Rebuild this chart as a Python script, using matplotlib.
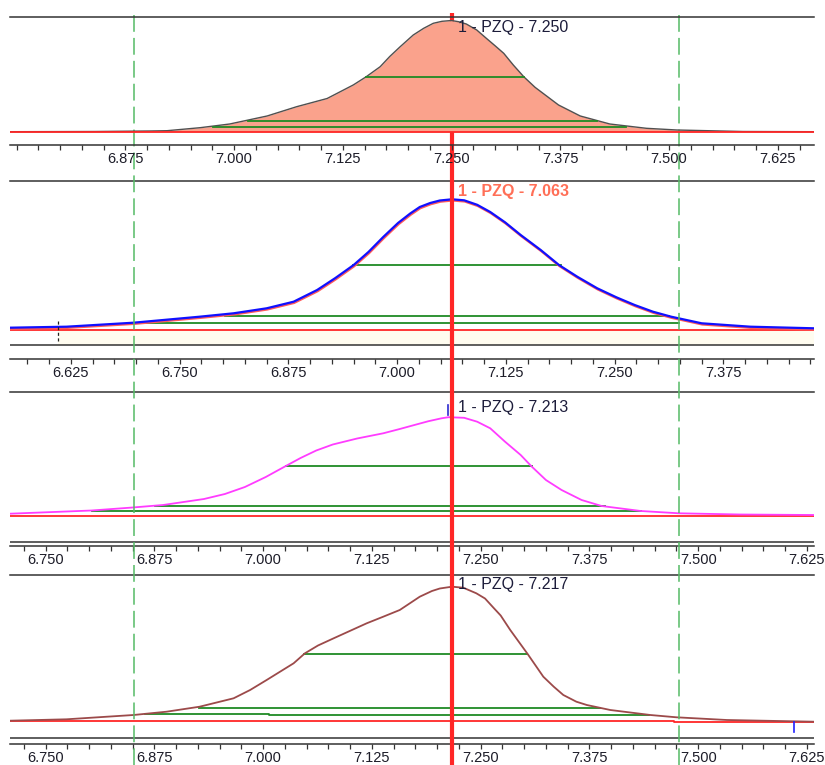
import matplotlib.pyplot as plt
import matplotlib.transforms as mtransforms
from matplotlib.ticker import FixedLocator, MultipleLocator, FormatStrFormatter

plt.rcParams["font.family"] = ["Liberation Sans", "DejaVu Sans"]

W, H, DPI = 825, 765, 100
LEFT, RIGHT = 10, 814
PX_PER_MIN = 870.0

# ---- traces: retention time (min) vs signal above baseline ----
t1 = [6.7425, 6.840, 6.903, 6.923, 6.961, 6.995, 7.038, 7.072, 7.107, 7.137,
      7.152, 7.168, 7.179, 7.191, 7.206, 7.218, 7.229, 7.239, 7.250, 7.258,
      7.267, 7.279, 7.290, 7.300, 7.310, 7.321, 7.333, 7.346, 7.373, 7.398,
      7.432, 7.474, 7.509, 7.585, 7.667]
s1 = [0.0, 0.2, 0.7, 1.0, 4.0, 7.7, 15.7, 25.0, 33.2, 46.7,
      55.0, 65.0, 75.2, 85.0, 96.7, 103.4, 108.4, 110.4, 111.2, 110.0,
      107.7, 101.7, 93.4, 86.0, 78.4, 66.7, 55.0, 44.4, 26.7, 15.7,
      7.7, 3.4, 1.7, 0.2, 0.0]

t2 = [6.555, 6.620, 6.697, 6.773, 6.812, 6.850, 6.881, 6.908, 6.929, 6.950,
      6.967, 6.984, 7.001, 7.015, 7.026, 7.038, 7.049, 7.063, 7.077, 7.092,
      7.107, 7.124, 7.142, 7.165, 7.186, 7.207, 7.230, 7.252, 7.273, 7.294,
      7.315, 7.350, 7.406, 7.479]
s2 = [2.3, 3.3, 7.3, 13.3, 16.7, 21.7, 28.3, 40.0, 52.0, 65.0,
      78.0, 93.0, 107.0, 116.5, 123.0, 127.0, 129.5, 130.7, 129.7, 125.2,
      118.0, 107.7, 95.0, 80.0, 65.0, 53.3, 41.7, 32.7, 25.0, 18.3,
      13.3, 6.7, 3.3, 1.7]

t3 = [6.709, 6.803, 6.850, 6.885, 6.932, 6.956, 6.979, 7.003, 7.026, 7.043,
      7.061, 7.080, 7.108, 7.138, 7.157, 7.173, 7.190, 7.205, 7.213, 7.231,
      7.246, 7.261, 7.278, 7.296, 7.308, 7.325, 7.343, 7.366, 7.389, 7.434,
      7.478, 7.548, 7.633]
s3 = [2.0, 5.2, 8.2, 10.7, 16.7, 21.7, 28.7, 38.7, 49.7, 57.7,
      65.2, 71.2, 77.2, 82.4, 86.7, 90.5, 94.5, 97.4, 98.5, 97.9,
      94.0, 87.4, 74.0, 60.7, 49.7, 35.7, 25.7, 15.7, 9.7, 4.7,
      2.4, 1.2, 0.7]

t4 = [6.709, 6.774, 6.851, 6.889, 6.927, 6.966, 6.985, 7.004, 7.035, 7.048,
      7.063, 7.081, 7.119, 7.138, 7.157, 7.180, 7.194, 7.203, 7.217, 7.230,
      7.245, 7.255, 7.265, 7.273, 7.284, 7.304, 7.322, 7.334, 7.345, 7.360,
      7.372, 7.399, 7.445, 7.475, 7.533, 7.633]
s4 = [0.0, 1.4, 5.7, 9.0, 14.0, 22.4, 30.7, 40.7, 57.4, 67.4,
      75.2, 82.4, 97.4, 104.0, 110.7, 124.0, 129.7, 132.2, 134.0, 133.0,
      127.4, 122.2, 112.7, 105.2, 90.7, 66.7, 44.0, 34.0, 25.7, 19.0,
      15.7, 10.7, 5.7, 3.4, 0.7, -1.0]

apex = [7.250, 7.063, 7.213, 7.217]
peak_name = "1 - PZQ"

# integration lines: (start, end, level)
integ1 = [(7.152, 7.333, 55.0), (7.016, 7.417, 10.7), (6.976, 7.451, 5.0)]
integ2 = [(6.949, 7.188, 65.0), (6.802, 7.312, 14.0), (6.699, 7.324, 7.3)]
integ3 = [(7.026, 7.309, 49.7), (6.876, 7.393, 9.7), (6.803, 7.434, 5.0)]
integ4 = [(7.047, 7.303, 67.0), (6.926, 7.387, 12.7)]
integ4_step_t = [6.864, 7.007, 7.007, 7.443]
integ4_step_s = [7.0, 7.0, 5.7, 5.7]
base4_t = [6.709, 7.472, 7.472, 7.633]
base4_s = [0.0, 0.0, -1.3, -1.3]

# window markers and run start/end marks
window_marks = [6.885, 7.512]
start_mark2 = 6.610
end_mark4 = 7.610

major1 = [6.875, 7.000, 7.125, 7.250, 7.375, 7.500, 7.625]
major2 = [6.625, 6.750, 6.875, 7.000, 7.125, 7.250, 7.375]
major34 = [6.750, 6.875, 7.000, 7.125, 7.250, 7.375, 7.500, 7.625]

# panel geometry in pixels: top line, axis line, baseline, box bottom
panels = [
    dict(top=17, bottom=145, base=131.7, box=None, x0=6.7425),
    dict(top=181, bottom=359, base=330.0, box=345, x0=6.555),
    dict(top=392, bottom=546, base=515.7, box=542, x0=6.709),
    dict(top=575, bottom=744, base=720.7, box=738, x0=6.709),
]

LINE = "#333333"
GREEN = "#1f8a24"
RED = "#ff2626"

fig = plt.figure(figsize=(W / DPI, H / DPI), dpi=DPI)
fig.patch.set_facecolor("white")

axes = []
for i, p in enumerate(panels):
    rect = [LEFT / W, 1 - p["bottom"] / H, (RIGHT - LEFT) / W,
            (p["bottom"] - p["top"]) / H]
    ax = fig.add_axes(rect, zorder=3 if i == 0 else 1)
    ax.set_facecolor("none" if i == 0 else "white")
    ax.set_xlim(p["x0"], p["x0"] + (RIGHT - LEFT) / PX_PER_MIN)
    ax.set_ylim(p["base"] - p["bottom"], p["base"] - p["top"])
    for side in ("left", "right"):
        ax.spines[side].set_visible(False)
    for side in ("top", "bottom"):
        ax.spines[side].set_color(LINE)
        ax.spines[side].set_linewidth(1.1)
    ax.yaxis.set_visible(False)
    ax.xaxis.set_minor_locator(MultipleLocator(0.025))
    ax.xaxis.set_major_formatter(FormatStrFormatter("%.3f"))
    ax.tick_params(axis="x", which="both", direction="out", length=3.8,
                   width=0.9, color=LINE, labelsize=10.5, pad=1.2,
                   labelcolor="#1c1c28")
    if p["box"] is not None:
        ax.axhline(p["base"] - p["box"], color=LINE, lw=1.1)
    axes.append(ax)

ax1, ax2, ax3, ax4 = axes
ax1.xaxis.set_major_locator(FixedLocator(major1))
ax2.xaxis.set_major_locator(FixedLocator(major2))
ax3.xaxis.set_major_locator(FixedLocator(major34))
ax4.xaxis.set_major_locator(FixedLocator(major34))

trace_kw = dict(solid_joinstyle="round", solid_capstyle="round")

# panel 1: filled peak
ax1.fill_between(t1, s1, 0, color="#faa28c", lw=0)
ax1.plot(t1, s1, color="#505050", lw=1.0, **trace_kw)
ax1.axhline(0, color=RED, lw=1.3)
for a, b, lvl in integ1:
    ax1.plot([a, b], [lvl, lvl], color=GREEN, lw=1.3)

# panel 2: blue trace over a red copy
lo2, hi2 = ax2.get_xlim()
box2 = panels[1]["base"] - panels[1]["box"]
ax2.fill_between([start_mark2, hi2], [box2, box2], [0, 0],
                 color="#fffcef", lw=0)
ax2.axhline(0, color=RED, lw=1.3)
for a, b, lvl in integ2:
    ax2.plot([a, b], [lvl, lvl], color=GREEN, lw=1.3)
shift = mtransforms.ScaledTranslation(0.6 / DPI, -1.2 / DPI, fig.dpi_scale_trans)
ax2.plot(t2, s2, color="#ff5a5a", lw=1.6, transform=ax2.transData + shift,
         **trace_kw)
ax2.plot(t2, s2, color="#1010ff", lw=1.6, **trace_kw)
ax2.plot([start_mark2, start_mark2], [9.3, -13.3], color="#222222", lw=0.9,
         ls=(0, (2.5, 2)))
ax2.plot([apex[1], apex[1]], [130.7, 137.0], color="#2020ff", lw=1.2)

# panel 3: magenta trace
ax3.axhline(0, color=RED, lw=1.3)
for a, b, lvl in integ3:
    ax3.plot([a, b], [lvl, lvl], color=GREEN, lw=1.3)
ax3.plot(t3, s3, color="#ff3cff", lw=1.3, **trace_kw)
ax3.plot([apex[2], apex[2]], [100.7, 110.7], color="#2a2ad0", lw=1.2)

# panel 4: brown trace
ax4.plot(base4_t, base4_s, color=RED, lw=1.3)
for a, b, lvl in integ4:
    ax4.plot([a, b], [lvl, lvl], color=GREEN, lw=1.3)
ax4.plot(integ4_step_t, integ4_step_s, color=GREEN, lw=1.3)
ax4.plot(t4, s4, color="#9c4a4a", lw=1.3, **trace_kw)
ax4.plot([apex[3], apex[3]], [135.7, 142.7], color="#2020ff", lw=1.2)
ax4.plot([end_mark4, end_mark4], [-1.3, -11.3], color="#2020ff", lw=1.2)

# peak labels
label_levels = [104.0, 138.5, 108.7, 136.2]
label_shift = [6, 6, 10, 6]
label_styles = [dict(color="#1c1c3a"),
                dict(color="#ff6f57", fontweight="bold"),
                dict(color="#1c1c3a"),
                dict(color="#1c1c3a")]
for ax, a, lvl, dx, st in zip(axes, apex, label_levels, label_shift,
                              label_styles):
    ax.annotate(f"{peak_name} - {a:.3f}", xy=(a, lvl), xytext=(dx, 0),
                textcoords="offset pixels", ha="left", va="center",
                fontsize=11.5, zorder=6, **st)

# full-height markers, drawn in panel 1's time scale
ov = fig.add_axes([0, 0, 1, 1], zorder=2)
ov.set_facecolor("none")
ov.set_axis_off()
x0 = panels[0]["x0"]
ov.set_xlim(x0 - LEFT / PX_PER_MIN, x0 + (W - LEFT) / PX_PER_MIN)
ov.set_ylim(H, 0)
ov.vlines(window_marks, 15, H, colors="#55bb66", lw=1.1,
          linestyles=(0, (11, 4)))
ov.vlines(apex[0], 13, H, colors=RED, lw=3.0)

fig.savefig("out.png", dpi=DPI)
